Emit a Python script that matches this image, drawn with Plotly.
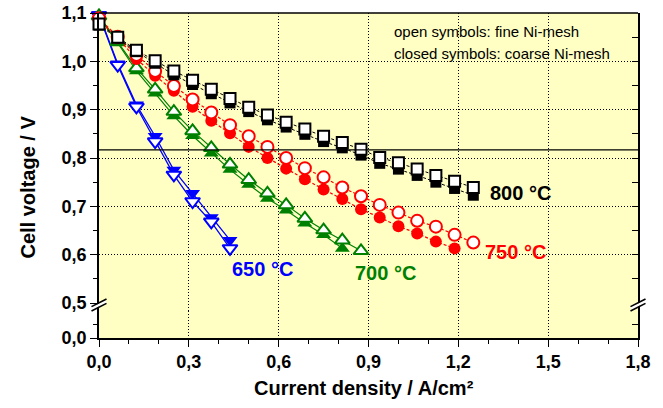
import plotly.graph_objects as go

# ---------------- data ----------------
cur_800_fine = [0.0, 0.0625, 0.125, 0.1875, 0.25, 0.3125, 0.375, 0.4375, 0.5, 0.5625, 0.625,
                0.6875, 0.75, 0.8125, 0.875, 0.9375, 1.0, 1.0625, 1.125, 1.1875, 1.25]
v_800_fine = [1.077, 1.050, 1.023, 1.001, 0.980, 0.961, 0.942, 0.923, 0.905, 0.889, 0.874,
              0.860, 0.845, 0.832, 0.818, 0.801, 0.790, 0.777, 0.764, 0.752, 0.739]
cur_800_coarse = [0.0, 0.0625, 0.125, 0.1875, 0.25, 0.3125, 0.375, 0.4375, 0.5, 0.5625, 0.625,
                  0.6875, 0.75, 0.8125, 0.875, 0.9375, 1.0, 1.0625, 1.125, 1.1875, 1.25]
v_800_coarse = [1.075, 1.048, 1.020, 0.996, 0.972, 0.952, 0.933, 0.914, 0.896, 0.879, 0.864,
                0.849, 0.834, 0.821, 0.806, 0.789, 0.777, 0.764, 0.750, 0.737, 0.723]

cur_750_fine = [0.0, 0.0625, 0.125, 0.1875, 0.25, 0.3125, 0.375, 0.4375, 0.5, 0.5625, 0.625,
                0.6875, 0.75, 0.8125, 0.875, 0.9375, 1.0, 1.0625, 1.125, 1.1875, 1.25]
v_750_fine = [1.089, 1.051, 1.013, 0.980, 0.949, 0.921, 0.894, 0.868, 0.845, 0.823, 0.800,
              0.779, 0.760, 0.739, 0.721, 0.703, 0.687, 0.670, 0.658, 0.641, 0.625]
cur_750_coarse = [0.0, 0.0625, 0.125, 0.1875, 0.25, 0.3125, 0.375, 0.4375, 0.5, 0.5625, 0.625,
                  0.6875, 0.75, 0.8125, 0.875, 0.9375, 1.0, 1.0625, 1.125, 1.1875]
v_750_coarse = [1.085, 1.048, 1.005, 0.970, 0.939, 0.906, 0.877, 0.851, 0.823, 0.800, 0.778,
                0.756, 0.735, 0.715, 0.694, 0.677, 0.659, 0.644, 0.627, 0.613]

cur_700_fine = [0.0, 0.0625, 0.125, 0.1875, 0.25, 0.3125, 0.375, 0.4375, 0.5, 0.5625, 0.625,
                0.6875, 0.75, 0.8125, 0.875]
v_700_fine = [1.094, 1.041, 0.986, 0.942, 0.896, 0.856, 0.821, 0.787, 0.755, 0.727, 0.703,
              0.675, 0.651, 0.630, 0.608]
cur_700_coarse = [0.0, 0.0625, 0.125, 0.1875, 0.25, 0.3125, 0.375, 0.4375, 0.5, 0.5625, 0.625,
                  0.6875, 0.75, 0.8125]
v_700_coarse = [1.092, 1.038, 0.980, 0.934, 0.887, 0.846, 0.810, 0.776, 0.745, 0.716, 0.692,
                0.665, 0.641, 0.613]

cur_650_fine = [0.0, 0.0625, 0.125, 0.1875, 0.25, 0.3125, 0.375, 0.4375]
v_650_fine = [1.095, 0.992, 0.906, 0.834, 0.765, 0.710, 0.668, 0.613]
cur_650_coarse = [0.0, 0.0625, 0.125, 0.1875, 0.25, 0.3125, 0.375, 0.4375]
v_650_coarse = [1.097, 0.995, 0.910, 0.845, 0.775, 0.727, 0.677, 0.630]

ref_voltage = 0.817

x_ticks = [0.0, 0.3, 0.6, 0.9, 1.2, 1.5, 1.8]
x_minor = [0.1, 0.2, 0.4, 0.5, 0.7, 0.8, 1.0, 1.1, 1.3, 1.4, 1.6, 1.7]
y_ticks = [0.5, 0.6, 0.7, 0.8, 0.9, 1.0, 1.1]
y_minor = [0.55, 0.65, 0.75, 0.85, 0.95, 1.05]
y_grid = [0.6, 0.7, 0.8, 0.9, 1.0]

labels = [("800 °C", 1.30, 0.728, "black"),
          ("750 °C", 1.282, 0.606, "#ff0000"),
          ("700 °C", 0.848, 0.562, "#008000"),
          ("650 °C", 0.4375, 0.570, "#0000ff")]
note_lines = ["open symbols: fine Ni-mesh", "closed symbols: coarse Ni-mesh"]

# ---------------- styling ----------------
FONT = "Arial, Liberation Sans, sans-serif"
BG = "rgb(255,255,196)"
W, H = 663, 408
PLOT_L, PLOT_R, PLOT_T, PLOT_B = 99, 638, 13, 338   # plot box in page pixels
L, T = PLOT_L, PLOT_T
R, B = W - PLOT_R, H - PLOT_B
PW, PH = PLOT_R - PLOT_L, PLOT_B - PLOT_T
BREAK_PX = 311  # pixel row where upper/lower y segments meet
d_split = (PLOT_B - BREAK_PX) / PH
upper_range = [0.5 - (BREAK_PX - 303) / (290 / 0.6), 1.1]   # 0.5 at px 303, 1.1 at px 13

fig = go.Figure()

def add_series(x, y, color, symbol, size, filled, dash, lw):
    fig.add_trace(go.Scatter(
        x=x, y=y, mode="lines+markers", cliponaxis=False, showlegend=False,
        line=dict(color=color, width=lw, dash=dash),
        marker=dict(symbol=symbol, size=size,
                    color=color if filled else "white",
                    line=dict(color=color, width=0 if filled else 2))))

# closed (coarse) first, open (fine) on top
add_series(cur_650_coarse, v_650_coarse, "#0000ff", "triangle-down", 13, True, "solid", 1.3)
add_series(cur_650_fine, v_650_fine, "#0000ff", "triangle-down", 13, False, "solid", 1.3)
add_series(cur_700_coarse, v_700_coarse, "#008000", "triangle-up", 13, True, "solid", 1.2)
add_series(cur_700_fine, v_700_fine, "#008000", "triangle-up", 13, False, "solid", 1.2)
add_series(cur_750_coarse, v_750_coarse, "#ff0000", "circle", 12, True, "3px,2px", 1.2)
add_series(cur_750_fine, v_750_fine, "#ff0000", "circle", 12, False, "3px,2px", 1.2)
add_series(cur_800_coarse, v_800_coarse, "black", "square", 11, True, "3px,2px", 1)
add_series(cur_800_fine, v_800_fine, "black", "square", 11, False, "3px,2px", 1)

# empty traces so that the auxiliary axes (lower segment, right side) get their subplots
for ya in ("y2", "y3", "y4"):
    fig.add_trace(go.Scatter(x=[], y=[], xaxis="x", yaxis=ya, showlegend=False,
                             hoverinfo="skip", mode="markers"))

tickfont = dict(family=FONT, size=18, color="black", weight="bold")

fig.update_layout(
    template="none",
    width=W, height=H,
    margin=dict(l=L, r=R, t=T, b=B, pad=0, autoexpand=False),
    paper_bgcolor="white", plot_bgcolor="rgba(0,0,0,0)",
    separators=", ",
    font=dict(family=FONT, color="black"),
    xaxis=dict(domain=[0, 1], range=[0, 1.8], anchor="y2", automargin=False,
               tickvals=x_ticks, tickformat=".1f", tickfont=tickfont,
               ticks="outside", ticklen=7, tickwidth=1.2, tickcolor="black",
               showline=True, linecolor="black", linewidth=1.5,
               showgrid=True, gridcolor="black", gridwidth=1, griddash="1px,2px",
               zeroline=False,
               minor=dict(tickvals=x_minor, ticks="outside", ticklen=4, tickcolor="black",
                          showgrid=False)),
    yaxis=dict(domain=[d_split, 1], range=upper_range, anchor="x", automargin=False,
               tickvals=y_ticks, tickformat=".1f", tickfont=tickfont,
               ticks="outside", ticklen=7, tickwidth=1.2, tickcolor="black",
               showline=True, linecolor="black", linewidth=1.5,
               showgrid=False, zeroline=False,
               minor=dict(tickvals=y_minor, ticks="outside", ticklen=4, tickcolor="black",
                          showgrid=False)),
    yaxis2=dict(domain=[0, d_split], range=[0, 0.2], anchor="x", automargin=False,
                tickvals=[0.0], tickformat=".1f", tickfont=tickfont,
                ticks="outside", ticklen=7, tickwidth=1.2, tickcolor="black",
                showline=True, linecolor="black", linewidth=1.5,
                showgrid=False, zeroline=False,
                minor=dict(tickvals=[0.1], ticks="outside", ticklen=4, tickcolor="black",
                           showgrid=False)),
    yaxis3=dict(overlaying="y", side="right", anchor="x", range=upper_range, automargin=False,
                tickvals=y_grid, showticklabels=False,
                ticks="inside", ticklen=6, tickcolor="black",
                showline=True, linecolor="black", linewidth=1.5,
                showgrid=True, gridcolor="black", gridwidth=1, griddash="1px,2px",
                zeroline=False,
                minor=dict(tickvals=y_minor, ticks="inside", ticklen=6, tickcolor="black",
                           showgrid=False)),
    yaxis4=dict(overlaying="y2", side="right", anchor="x", range=[0, 0.2], automargin=False,
                tickvals=[0.1], showticklabels=False,
                ticks="inside", ticklen=6, tickcolor="black",
                showline=True, linecolor="black", linewidth=1.5,
                showgrid=False, zeroline=False),
)

def px2paper(px, py):
    """page-pixel position -> paper coordinates"""
    return (px - PLOT_L) / PW, (PLOT_B - py) / PH

shapes = []
shapes.append(dict(type="rect", xref="paper", yref="paper", x0=0, y0=0, x1=1, y1=1,
                   fillcolor=BG, line=dict(width=0), layer="below"))
shapes.append(dict(type="line", xref="paper", yref="paper", x0=0, x1=1, y0=1, y1=1,
                   line=dict(color="black", width=1.5), layer="above"))
shapes.append(dict(type="line", xref="paper", yref="y", x0=0, x1=1, y0=ref_voltage, y1=ref_voltage,
                   line=dict(color="black", width=1.2), layer="above"))

# axis-break marks on both vertical axes
for cx in (PLOT_L, PLOT_R):
    cy = 305
    a = px2paper(cx - 7, cy + 3.5)
    b = px2paper(cx + 7, cy - 3.5)
    shapes.append(dict(type="line", xref="paper", yref="paper", x0=a[0], y0=a[1], x1=b[0], y1=b[1],
                       line=dict(color="white", width=3), layer="above"))
    for off in (-2.2, 2.2):
        a = px2paper(cx - 7.5, cy + 3.8 + off)
        b = px2paper(cx + 7.5, cy - 3.8 + off)
        shapes.append(dict(type="line", xref="paper", yref="paper", x0=a[0], y0=a[1], x1=b[0], y1=b[1],
                           line=dict(color="black", width=1.6), layer="above"))
fig.update_layout(shapes=shapes)

ann = []
for txt, x, y, col in labels:
    ann.append(dict(text=txt, x=x, y=y, xref="x", yref="y", xanchor="left", yanchor="middle",
                    showarrow=False, font=dict(family=FONT, size=20, color=col, weight="bold")))
nx, _ = px2paper(392, 0)
for i, line in enumerate(note_lines):
    _, ny = px2paper(0, 31.5 + 22 * i)
    ann.append(dict(text=line, x=nx, y=ny, xref="paper", yref="paper", xanchor="left",
                    yanchor="middle", showarrow=False,
                    font=dict(family=FONT, size=15, color="black")))
tx, ty = px2paper(27, 187.5)
ann.append(dict(text="Cell voltage / V", x=tx, y=ty, xref="paper", yref="paper", textangle=-90,
                xanchor="center", yanchor="middle", showarrow=False,
                font=dict(family=FONT, size=20, color="black", weight="bold")))
tx, ty = px2paper(364, 388)
ann.append(dict(text="Current density / A/cm²", x=tx, y=ty, xref="paper", yref="paper",
                xanchor="center", yanchor="middle", showarrow=False,
                font=dict(family=FONT, size=20, color="black", weight="bold")))
fig.update_layout(annotations=ann)

# place the figure at the page origin (remove the default body margin), hide the mode bar
fig.write_html("out.html",
               config={"displayModeBar": False},
               post_script="document.body.style.margin='0';document.body.style.overflow='hidden';")
